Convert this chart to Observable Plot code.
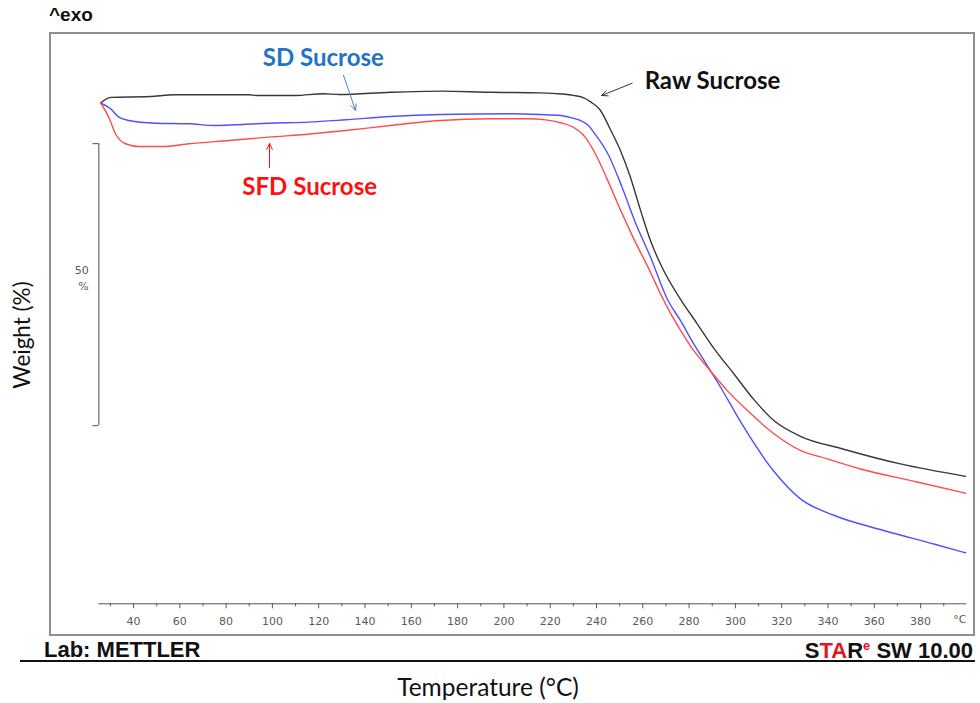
<!DOCTYPE html>
<html><head><meta charset="utf-8">
<script src="https://cdn.jsdelivr.net/npm/d3@7"></script>
<script src="https://cdn.jsdelivr.net/npm/@observablehq/plot@0.6"></script>
<style>
html,body{margin:0;padding:0;background:#fff;}
#wrap{position:relative;width:980px;height:703px;overflow:hidden;font-family:"Liberation Sans",Arial,sans-serif;}
#wrap svg{position:absolute;left:0;top:0;}
.lbl{position:absolute;white-space:nowrap;line-height:1;}
</style></head><body>
<div id="wrap">
  <div style="position:absolute;left:49px;top:32px;width:926px;height:604px;box-sizing:border-box;border:2px solid #8f8f8f;"></div>
  <div class="lbl" style="left:49px;top:5px;font-weight:bold;font-size:19px;color:#111;">^exo</div>
  <div class="lbl" style="left:22px;top:335px;transform:translate(-50%,-50%) rotate(-90deg);font-family:Lato,'Open Sans',sans-serif;font-size:22.5px;color:#111;">Weight (%)</div>
  <div class="lbl" style="left:488px;top:687px;transform:translate(-50%,-50%);font-family:Lato,'Open Sans',sans-serif;font-size:24.5px;color:#111;">Temperature (°C)</div>
  <div class="lbl" style="left:44px;top:638.5px;font-weight:bold;font-size:22px;color:#111;">Lab: METTLER</div>
  <div class="lbl" style="right:7px;top:638.5px;font-weight:bold;font-size:22px;color:#111;">S<span style="color:#e8141b">TA</span>R<sup style="color:#e8141b;font-size:13px;vertical-align:8px;">e</sup> SW 10.00</div>
  <div style="position:absolute;left:20px;top:660px;width:955px;height:2px;background:#111;"></div>
</div>
<script>
// ---- data ----
const seriesNames = ["Raw Sucrose", "SD Sucrose", "SFD Sucrose"];
const seriesColors = ["#383838", "#5050ff", "#ff4d4d"];

const rawT = [25.8, 30.1, 47, 58, 90, 93, 110, 122, 129, 151, 173, 194, 216, 225, 230, 234, 237.5, 241.5, 246, 250.5, 254.5, 259, 263.3, 269, 276.3, 283.5, 290.7, 299.3, 308, 316.6, 328.1, 346, 371.3, 399.4];
const rawW = [100, 101.0, 101.15, 101.45, 101.45, 101.33, 101.33, 101.63, 101.5, 101.9, 102.1, 101.9, 101.8, 101.6, 101.35, 101.0, 100.2, 98.8, 95.3, 91.4, 87.0, 81.0, 75.6, 70.3, 65.2, 60.85, 56.5, 52.0, 47.4, 43.7, 40.9, 38.7, 36.0, 33.8];

const sdT = [25.8, 30.1, 33.7, 38, 49.5, 63.9, 75.4, 84, 98.3, 115.6, 131.6, 151, 172.6, 202.9, 215.8, 224.5, 229, 233, 236.5, 239, 245.3, 251, 257, 263.3, 270.5, 276.3, 282, 286.4, 293.6, 302.2, 316.6, 328.1, 342.5, 364.1, 385.7, 399.4];
const sdW = [100, 98.97, 97.48, 96.9, 96.42, 96.31, 96.01, 96.13, 96.42, 96.6, 97.02, 97.61, 97.96, 98.09, 97.95, 97.78, 97.4, 96.9, 96.0, 94.7, 90.7, 85.1, 78.6, 72.7, 65.3, 61.4, 57.3, 54.4, 49.6, 43.5, 34.7, 29.8, 26.9, 24.2, 21.8, 20.25];

const sfdT = [25.8, 29.3, 32.2, 36.5, 42.3, 52.4, 63.9, 81.2, 98.4, 117.2, 131.6, 151, 172.6, 194.2, 210, 218, 224.5, 230, 235, 239.5, 244.6, 250.4, 256, 263.3, 267.6, 272, 276.3, 282, 287.8, 296.5, 305.1, 316.6, 328.1, 339.7, 354, 378.5, 399.4];
const sfdW = [100, 97.48, 94.54, 92.77, 92.29, 92.29, 92.77, 93.35, 93.94, 94.54, 95.12, 96.01, 96.9, 97.2, 97.2, 97.0, 96.5, 95.7, 94.0, 91.0, 86.5, 81.0, 76.0, 70.0, 66.2, 62.7, 59.7, 56.1, 53.2, 49.0, 45.5, 41.35, 38.4, 36.9, 35.1, 32.8, 30.8];

const majorTicks = [40, 60, 80, 100, 120, 140, 160, 180, 200, 220, 240, 260, 280, 300, 320, 340, 360, 380];
const minorTicks = [30, 50, 70, 90, 110, 130, 150, 170, 190, 210, 230, 250, 270, 290, 310, 330, 350, 370, 390];
const unitLabel = ["°C"];
const scaleBar = [42.8, 92.8];           // 50 % weight scale bar
const scaleBarLabel = ["50\n%"];

// curve labels and their arrows (data coordinates: °C, %)
const labelNames = ["SD Sucrose", "Raw Sucrose", "SFD Sucrose"];
const labelT = [122.0, 290.1, 116.1];
const labelW = [107.9, 103.8, 85.0];
const labelColors = ["#1f73c8", "#111111", "#ff1010"];
const arrowFromT = [130.7, 255.4, 98.75];
const arrowFromW = [104.9, 103.5, 88.56];
const arrowToT = [135.9, 242.2, 98.75];
const arrowToW = [98.67, 101.33, 92.82];
const arrowColors = ["#4a7fd0", "#333333", "#ff1010"];

// ---- build table ----
const allT = [rawT, sdT, sfdT], allW = [rawW, sdW, sfdW];
const rows = seriesNames.flatMap((name, k) => allT[k].map((t, i) => ({name, T: t, W: allW[k][i]})));
const labels = labelNames.map((text, i) => ({text, T: labelT[i], W: labelW[i], color: labelColors[i]}));
const arrows = labelNames.map((n, i) => ({x1: arrowFromT[i], y1: arrowFromW[i], x2: arrowToT[i], y2: arrowToW[i], color: arrowColors[i]}));

const yMin = 11.2;
const chart = Plot.plot({
  width: 980, height: 703,
  marginLeft: 98.3, marginRight: 13.6, marginTop: 46.1, marginBottom: 99.7,
  x: {domain: [25, 400], axis: null},
  y: {domain: [yMin, 110], axis: null},
  color: {domain: seriesNames, range: seriesColors},
  style: {background: "transparent", overflow: "visible", fontFamily: "DejaVu Sans, Verdana, sans-serif", fontSize: "11px"},
  marks: [
    Plot.ruleY([yMin], {stroke: "#555", strokeWidth: 1}),
    Plot.axisX({ticks: majorTicks, tickSize: 5, tickPadding: 8, color: "#5a5a5a", fontSize: 11, label: null}),
    Plot.axisX({ticks: minorTicks, tickSize: 3, tickFormat: () => "", color: "#5a5a5a", label: null}),
    Plot.text(unitLabel, {x: 400, frameAnchor: "bottom", dy: 19, dx: -7, text: d => d, fill: "#5a5a5a", fontSize: 11}),
    Plot.ruleX([25], {y1: scaleBar[0], y2: scaleBar[1], stroke: "#666", strokeWidth: 1.2}),
    Plot.ruleY(scaleBar, {x1: 22.5, x2: 25, stroke: "#666", strokeWidth: 1.2}),
    Plot.text(scaleBarLabel, {x: 25, y: (scaleBar[0] + scaleBar[1]) / 2, text: d => d, dx: -10, dy: -8, textAnchor: "end", lineHeight: 1.5, fill: "#5a5a5a", fontSize: 11}),
    Plot.line(rows, {x: "T", y: "W", z: "name", stroke: "name", strokeWidth: 1.4, curve: "monotone-x"}),
    Plot.arrow(arrows, {x1: "x1", y1: "y1", x2: "x2", y2: "y2", stroke: d => d.color, strokeWidth: 1, headLength: 10, headAngle: 50}),
    Plot.text(labels, {x: "T", y: "W", text: "text", fill: d => d.color, fontFamily: "Lato, 'Open Sans', sans-serif", fontWeight: "bold", fontSize: 24})
  ]
});
document.getElementById("wrap").appendChild(chart);
</script>
</body></html>
